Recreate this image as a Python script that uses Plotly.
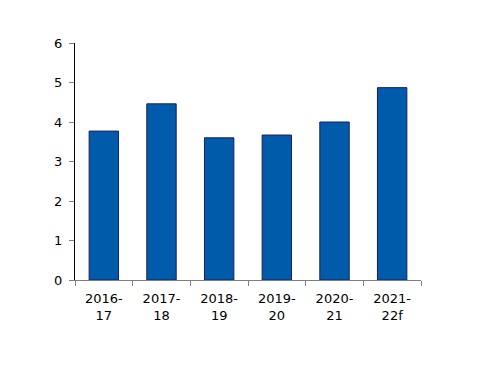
import plotly.graph_objects as go

categories = ["2016-<br>17", "2017-<br>18", "2018-<br>19", "2019-<br>20", "2020-<br>21", "2021-<br>22f"]
values = [3.77, 4.46, 3.60, 3.67, 4.00, 4.87]
y_ticks = [0, 1, 2, 3, 4, 5, 6]

fig = go.Figure(go.Bar(
    x=categories, y=values,
    marker=dict(color="#005BAA", line=dict(color="#1B1F5E", width=1)),
    width=0.51,
))

fig.update_layout(
    width=500, height=386,
    margin=dict(l=67, r=87, t=35, b=114),
    plot_bgcolor="white", paper_bgcolor="white",
    font=dict(family="DejaVu Sans", size=13, color="black"),
    showlegend=False,
)
fig.update_xaxes(
    showline=True, linecolor="#808080", linewidth=1,
    ticks="outside", tickson="boundaries", ticklen=5, tickcolor="#808080",
    ticklabelstandoff=6,
    showgrid=False,
)
fig.update_yaxes(
    range=[0, 6], tickvals=y_ticks,
    showline=True, linecolor="black", linewidth=1,
    ticks="outside", ticklen=5, tickcolor="#808080",
    ticklabelstandoff=4,
    showgrid=False, zeroline=False,
)

fig.write_html("out.html")
